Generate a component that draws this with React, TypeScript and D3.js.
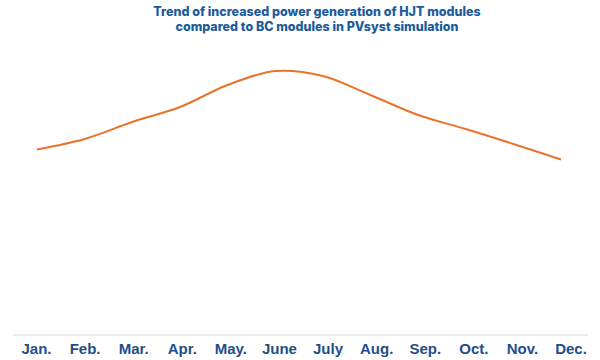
import { useEffect, useRef } from 'react'
import * as d3 from 'd3'

const months = ['Jan.', 'Feb.', 'Mar.', 'Apr.', 'May.', 'June', 'July', 'Aug.', 'Sep.', 'Oct.', 'Nov.', 'Dec.']
// relative gain of HJT over BC (unitless)
const gain = [0.854, 0.929, 1.05, 1.157, 1.314, 1.414, 1.379, 1.243, 1.1, 1.0, 0.893, 0.782]
const titleLines = [
  'Trend of increased power generation of HJT modules',
  'compared to BC modules in PVsyst simulation',
]

export default function App() {
  const svgRef = useRef<SVGSVGElement>(null)

  useEffect(() => {
    if (!svgRef.current) return
    const width = 600
    const height = 360
    const svg = d3.select(svgRef.current)
    svg.selectAll('*').remove()
    svg.attr('width', width).attr('height', height)

    svg.append('g')
      .selectAll('text')
      .data(titleLines)
      .join('text')
      .attr('x', 317)
      .attr('y', (_, i) => 16 + i * 14.5)
      .attr('text-anchor', 'middle')
      .style('font-family', 'Inter, sans-serif')
      .style('font-weight', 800)
      .style('font-size', '12.5px')
      .style('fill', '#1b5a9b')
      .text(d => d)

    const x = d3.scalePoint<string>().domain(months).range([37, 561])
    const xLabel = d3.scalePoint<string>().domain(months).range([36.5, 571])
    const y = d3.scaleLinear().domain([0, 1.5]).range([269, 59])

    const line = d3
      .line<number>()
      .x((_, i) => x(months[i]) as number)
      .y(d => y(d))
      .curve(d3.curveCatmullRom.alpha(0.5))

    svg.append('path')
      .datum(gain)
      .attr('fill', 'none')
      .attr('stroke', '#e8732a')
      .attr('stroke-width', 2)
      .attr('d', line)

    svg.append('line')
      .attr('x1', 13)
      .attr('x2', 588)
      .attr('y1', 335)
      .attr('y2', 335)
      .attr('stroke', '#dcdcdc')
      .attr('stroke-width', 1)

    svg.append('g')
      .selectAll('text')
      .data(months)
      .join('text')
      .attr('x', d => xLabel(d) as number)
      .attr('y', 354)
      .attr('text-anchor', 'middle')
      .style('font-family', 'Liberation Sans, Arial, sans-serif')
      .style('font-weight', 700)
      .style('font-size', '15px')
      .style('fill', '#1f4e8a')
      .text(d => d)
  }, [])

  return (
    <div style={{ position: 'absolute', left: 0, top: 0 }}>
      <svg ref={svgRef} style={{ display: 'block' }} />
    </div>
  )
}
